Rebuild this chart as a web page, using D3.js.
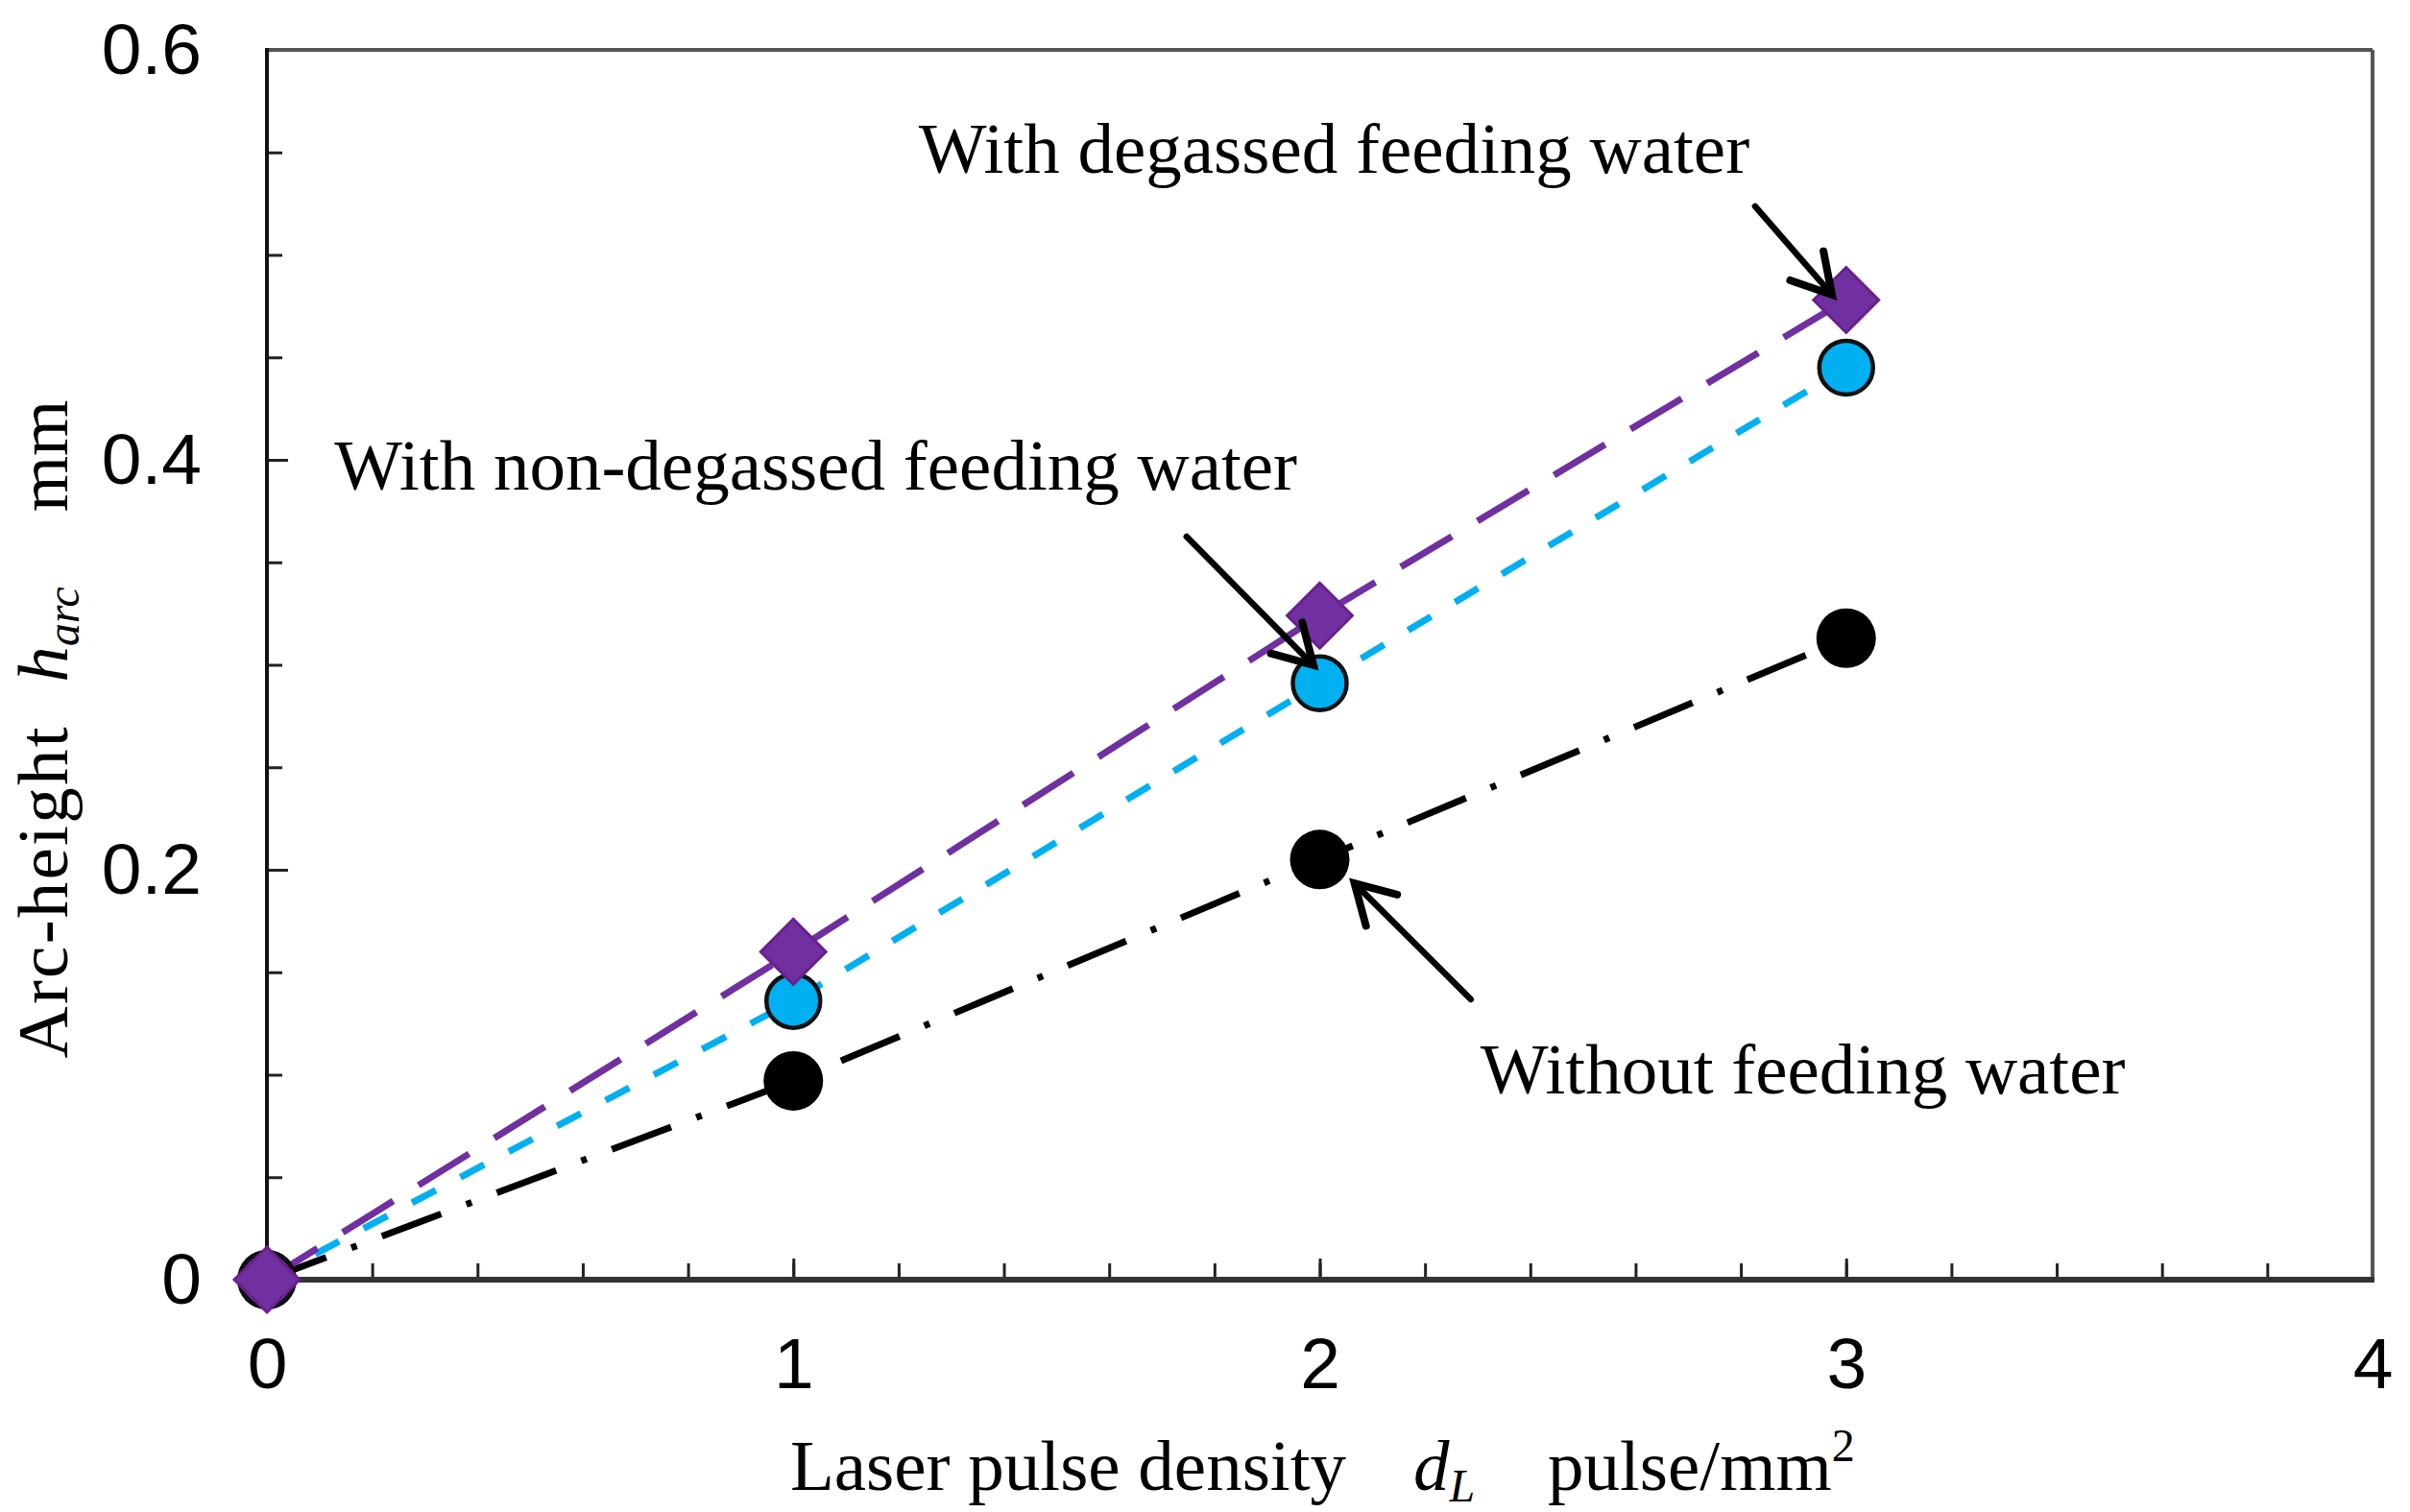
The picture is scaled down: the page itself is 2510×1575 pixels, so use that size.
<!DOCTYPE html>
<html>
<head>
<meta charset="utf-8">
<script src="https://cdn.jsdelivr.net/npm/d3@7/dist/d3.min.js"></script>
<style>
  html, body { margin: 0; padding: 0; background: #fff; }
  svg { display: block; }
</style>
</head>
<body>
<svg id="chart" width="2510" height="1575"></svg>
<script>
// ---- data ----
const xValues = [0, 1, 2, 3];
const withoutWater = [0, 0.097, 0.205, 0.313];
const nonDegassed = [0, 0.136, 0.291, 0.445];
const degassed = [0, 0.160, 0.324, 0.478];
const xTickLabels = [0, 1, 2, 3, 4];
const yTickLabels = [0, 0.2, 0.4, 0.6];
const annotationTexts = ["With degassed feeding water", "With non-degassed feeding water", "Without feeding water"];

// ---- layout ----
const W = 2510, H = 1575;
const plotLeft = 278, plotRight = 2471, plotTop = 52, plotBottom = 1333;
const svg = d3.select("#chart");
svg.append("rect").attr("width", W).attr("height", H).attr("fill", "#fff");

const x = d3.scaleLinear().domain([0, 4]).range([plotLeft, plotRight]);
const y = d3.scaleLinear().domain([0, 0.6]).range([plotBottom, plotTop]);

const sans = "'Liberation Sans', Arial, sans-serif";
const serif = "'Liberation Serif', 'Times New Roman', serif";

// ---- axes (inward ticks) ----
const xMinor = d3.axisBottom(x).tickValues(d3.range(0, 4.001, 0.2)).tickSize(-17).tickSizeOuter(0).tickFormat("");
const xMajor = d3.axisBottom(x).tickValues(xTickLabels).tickSize(-22).tickSizeOuter(0).tickPadding(60).tickFormat(d3.format("d"));
const yMinor = d3.axisLeft(y).tickValues(d3.range(0, 0.6001, 0.05)).tickSize(-16).tickSizeOuter(0).tickFormat("");
const yMajor = d3.axisLeft(y).tickValues(yTickLabels).tickSize(-22).tickSizeOuter(0).tickPadding(68).tickFormat(d => d === 0 ? "0" : d3.format(".1f")(d));

function styleAxis(g) {
  g.select(".domain").remove();
  g.selectAll(".tick line").attr("stroke", "#222").attr("stroke-width", 3);
  g.selectAll(".tick text").attr("font-family", sans).attr("font-size", 75).attr("fill", "#000");
}
svg.append("g").attr("transform", `translate(0,${plotBottom})`).call(xMinor).call(styleAxis);
svg.append("g").attr("transform", `translate(0,${plotBottom})`).call(xMajor).call(styleAxis);
svg.append("g").attr("transform", `translate(${plotLeft},0)`).call(yMinor).call(styleAxis);
svg.append("g").attr("transform", `translate(${plotLeft},0)`).call(yMajor).call(styleAxis);

// frame
svg.append("line").attr("x1", plotLeft).attr("x2", plotRight).attr("y1", plotTop).attr("y2", plotTop).attr("stroke", "#555").attr("stroke-width", 4);
svg.append("line").attr("x1", plotRight).attr("x2", plotRight).attr("y1", plotTop).attr("y2", plotBottom).attr("stroke", "#555").attr("stroke-width", 4);
svg.append("line").attr("x1", plotLeft).attr("x2", plotRight + 2).attr("y1", plotBottom).attr("y2", plotBottom).attr("stroke", "#333").attr("stroke-width", 6);
svg.append("line").attr("x1", plotLeft).attr("x2", plotLeft).attr("y1", plotTop - 2).attr("y2", plotBottom + 3).attr("stroke", "#111").attr("stroke-width", 4);

// ---- series ----
const series = [
  { name: "without", values: withoutWater, color: "#000", dash: "66,28,6,28" },
  { name: "nondegassed", values: nonDegassed, color: "#00B0F0", dash: "28,29" },
  { name: "degassed", values: degassed, color: "#7030A0", dash: "62,31" }
];
const line = d3.line().x((d, i) => x(xValues[i])).y(d => y(d));
series.forEach(s => {
  svg.append("path").datum(s.values).attr("d", line)
    .attr("fill", "none").attr("stroke", s.color).attr("stroke-width", 7)
    .attr("stroke-dasharray", s.dash);
});

// markers
svg.append("g").selectAll("circle").data(withoutWater).join("circle")
  .attr("cx", (d, i) => x(xValues[i])).attr("cy", d => y(d)).attr("r", 31).attr("fill", "#000");
svg.append("g").selectAll("circle").data(nonDegassed).join("circle")
  .attr("cx", (d, i) => x(xValues[i])).attr("cy", d => y(d)).attr("r", 28)
  .attr("fill", "#00B0F0").attr("stroke", "#111").attr("stroke-width", 4.5);
const diamond = d3.symbol().type(d3.symbolSquare).size(2300);
svg.append("g").selectAll("path").data(degassed).join("path")
  .attr("d", diamond)
  .attr("transform", (d, i) => `translate(${x(xValues[i])},${y(d)}) rotate(45)`)
  .attr("fill", "#7030A0").attr("stroke", "#6A1F8F").attr("stroke-width", 3);

// ---- annotations ----
const arrows = [
  { from: [2.827, 0.5237], to: [2.973, 0.4806] },
  { from: [1.747, 0.3625], to: [1.988, 0.2998] },
  { from: [2.287, 0.1368], to: [2.066, 0.1934] }
];
arrows.forEach(a => {
  const x1 = x(a.from[0]), y1 = y(a.from[1]), x2 = x(a.to[0]), y2 = y(a.to[1]);
  svg.append("line").attr("x1", x1).attr("y1", y1).attr("x2", x2).attr("y2", y2)
    .attr("stroke", "#000").attr("stroke-width", 6.5).attr("stroke-linecap", "round");
  const ang = Math.atan2(y1 - y2, x1 - x2);
  const L = 46, spread = 30 * Math.PI / 180;
  const p1 = [x2 + L * Math.cos(ang + spread), y2 + L * Math.sin(ang + spread)];
  const p2 = [x2 + L * Math.cos(ang - spread), y2 + L * Math.sin(ang - spread)];
  svg.append("path").attr("d", `M${p1[0]},${p1[1]}L${x2},${y2}L${p2[0]},${p2[1]}`)
    .attr("fill", "none").attr("stroke", "#000").attr("stroke-width", 8)
    .attr("stroke-linecap", "round").attr("stroke-linejoin", "miter");
});

const textPos = [[1.238, 0.540], [0.128, 0.3855], [2.305, 0.0909]];
annotationTexts.forEach((t, i) => {
  svg.append("text").attr("x", x(textPos[i][0])).attr("y", y(textPos[i][1]))
    .attr("font-family", serif).attr("font-size", 75).attr("fill", "#000").text(t);
});

// ---- axis titles ----
const xt = svg.append("g").attr("font-family", serif).attr("font-size", 75).attr("fill", "#000");
xt.append("text").attr("x", 823).attr("y", 1552).text("Laser pulse density");
const dl = xt.append("text").attr("x", 1472).attr("y", 1552);
dl.append("tspan").attr("font-style", "italic").text("d");
dl.append("tspan").attr("font-style", "italic").attr("font-size", 48).attr("dy", 12).text("L");
const pu = xt.append("text").attr("x", 1612).attr("y", 1552);
pu.append("tspan").text("pulse/mm");
pu.append("tspan").attr("font-size", 48).attr("dy", -30).text("2");

const yt = svg.append("g").attr("font-family", serif).attr("font-size", 75).attr("fill", "#000");
yt.append("text").attr("transform", "translate(70,930) rotate(-90)").attr("text-anchor", "middle")
  .attr("textLength", 345).attr("lengthAdjust", "spacing").text("Arc-height");
const ha = yt.append("text").attr("transform", "translate(70,661) rotate(-90)").attr("text-anchor", "middle");
ha.append("tspan").attr("font-style", "italic").text("h");
ha.append("tspan").attr("font-style", "italic").attr("font-size", 48).attr("dy", 12).text("arc");
yt.append("text").attr("transform", "translate(70,475) rotate(-90)").attr("text-anchor", "middle").text("mm");
</script>
</body>
</html>
